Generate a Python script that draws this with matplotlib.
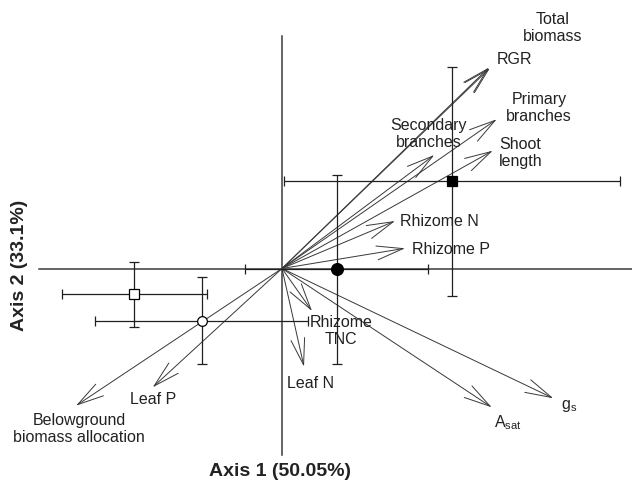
import matplotlib
matplotlib.use("Agg")
import matplotlib.pyplot as plt
from matplotlib.patches import FancyArrowPatch

plt.rcParams['font.family'] = ['Liberation Sans', 'DejaVu Sans']
plt.rcParams['mathtext.fontset'] = 'custom'
plt.rcParams['mathtext.rm'] = 'Liberation Sans'
plt.rcParams['mathtext.it'] = 'Liberation Sans:italic'

# --- Variable loadings (arrows) ---
variables = ["Total biomass", "RGR", "Primary branches", "Shoot length",
             "Secondary branches", "Rhizome N", "Rhizome P", "Rhizome TNC",
             "Leaf N", "Leaf P", "Belowground biomass allocation",
             "Asat", "gs"]
load_x = [2.07, 2.08, 2.147, 2.107, 1.523, 1.13, 1.23, 0.30, 0.22, -1.293, -2.06, 2.097, 2.713]
load_y = [2.01, 2.005, 1.492, 1.178, 1.135, 0.475, 0.202, -0.425, -0.982, -1.188, -1.372, -1.388, -1.298]

# --- Group scores with error bars ---
grp_x = [1.703, 0.547, -1.477, -0.803]
grp_y = [0.875, -0.005, -0.255, -0.522]
grp_xerr = [1.68, 0.913, 0.725, 1.062]
grp_yerr = [1.145, 0.945, 0.325, 0.434]

# --- label texts and layout ---
label_text = {
    "Total biomass": "Total\nbiomass",
    "RGR": "RGR",
    "Primary branches": "Primary\nbranches",
    "Shoot length": "Shoot\nlength",
    "Secondary branches": "Secondary\nbranches",
    "Rhizome N": "Rhizome N",
    "Rhizome P": "Rhizome P",
    "Rhizome TNC": "Rhizome\nTNC",
    "Leaf N": "Leaf N",
    "Leaf P": "Leaf P",
    "Belowground biomass allocation": "Belowground\nbiomass allocation",
    "Asat": r"A$_\mathrm{sat}$",
    "gs": r"g$_\mathrm{s}$",
}
label_pos = {
    "Total biomass": (2.71, 2.405, 'center'),
    "RGR": (2.15, 2.085, 'left'),
    "Primary branches": (2.57, 1.605, 'center'),
    "Shoot length": (2.17, 1.155, 'left'),
    "Secondary branches": (1.47, 1.345, 'center'),
    "Rhizome N": (1.18, 0.475, 'left'),
    "Rhizome P": (1.30, 0.195, 'left'),
    "Rhizome TNC": (0.59, -0.625, 'center'),
    "Leaf N": (0.29, -1.155, 'center'),
    "Leaf P": (-1.29, -1.305, 'center'),
    "Belowground biomass allocation": (-2.03, -1.605, 'center'),
    "Asat": (2.12, -1.54, 'left'),
    "gs": (2.79, -1.37, 'left'),
}

fig = plt.figure(figsize=(6.32, 4.84), dpi=100)
ax = fig.add_axes([0, 0, 1, 1])
ax.set_xlim(-2.82, 3.50)
ax.set_ylim(-2.155, 2.685)
ax.axis('off')

axis_col = '#3a3a3a'
ax.plot([0, 0], [-1.865, 2.325], color=axis_col, lw=1.1, zorder=1)
ax.plot([-2.43, 3.6], [0, 0], color=axis_col, lw=1.1, zorder=1)

# arrows
for name, lx, ly in zip(variables, load_x, load_y):
    arr = FancyArrowPatch((0, 0), (lx, ly),
                          arrowstyle='->,head_length=19,head_width=5',
                          shrinkA=0, shrinkB=0, mutation_scale=1,
                          color='#383838', lw=0.7, zorder=2)
    ax.add_patch(arr)

# error bars and markers
styles = [dict(marker='s', ms=7, mfc='black', mec='black'),
          dict(marker='o', ms=8.5, mfc='black', mec='black'),
          dict(marker='s', ms=6.5, mfc='white', mec='black'),
          dict(marker='o', ms=7, mfc='white', mec='black')]
for gx, gy, ex, ey, st in zip(grp_x, grp_y, grp_xerr, grp_yerr, styles):
    ax.errorbar(gx, gy, xerr=ex, yerr=ey, ecolor='#202020', elinewidth=0.9,
                capsize=3.6, capthick=0.9, linestyle='none', mew=0.9,
                zorder=4, **st)

for name in variables:
    x, y, ha = label_pos[name]
    ax.text(x, y, label_text[name], ha=ha, va='center', fontsize=11.5,
            color='#222222', linespacing=1.22, zorder=5)

ax.text(-0.02, -2.035, "Axis 1 (50.05%)", ha='center', va='center',
        fontsize=14, fontweight='bold', color='#222222')
ax.text(-2.62, 0.035, "Axis 2 (33.1%)", ha='center', va='center',
        fontsize=14, fontweight='bold', color='#222222', rotation=90)

fig.savefig("out.png", dpi=100)
